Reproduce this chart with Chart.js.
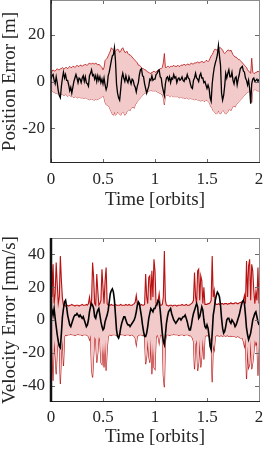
<!DOCTYPE html>
<html>
<head>
<meta charset="utf-8">
<script src="https://cdn.jsdelivr.net/npm/chart.js@4.4.1/dist/chart.umd.min.js"></script>
<style>
  html, body { margin: 0; padding: 0; background: #fff; }
  body { width: 264px; height: 450px; overflow: hidden; }
  canvas { display: block; }
</style>
</head>
<body>
<canvas id="posChart" width="264" height="225"></canvas>
<canvas id="velChart" width="264" height="225"></canvas>
<script>
// sample times in orbits (one sample every 0.01 orbit, 0 .. 2)
const times = Array.from({ length: 201 }, (_, i) => i / 100);

const xTicks = [0, 0.5, 1, 1.5, 2];
const xTickLabels = ['0', '0.5', '1', '1.5', '2'];

// --- position error [m] ---
const posTicks = [-20, 0, 20];
const posError = [
  1, 2.5, 3, 0.5, -1, 2, -0.5, -4, -6, -7,
  -2, 1.5, 4, 1.5, 3, 0.5, 0.5, -1.5, -4, -2.5,
  -5, -2.5, 0, 1.5, 3, 1.5, -0.5, 1.5, 1, -0.5,
  1.5, 2.5, 0, 2, -0.5, -1, -2, 2.5, 3.5, 5,
  2.5, 3, 1, 2.5, 0, 2.5, 0.5, 2, -0.5, 1,
  -1, 1.5, -1.5, -3.5, -2, 2.5, 4, 6.5, 9, 11,
  11.5, 14.5, 9, -1, -5, -7, -8, -3.5, 1.5, 3.5,
  1.5, 0, 2.5, 0.5, -0.5, 2, 0.5, -1, 1, 0.5,
  -1.5, -2.5, -4.5, -2, -0.5, 3, 5, 5.5, 2.5, 2,
  -1, -3, -5, -3.5, -2, 1, 0.5, 2.5, 0.5, 1,
  1, 3, 3.5, 4.5, 5, 2, 1.5, -2, -4, -6,
  -1, 1.5, 2, 0.5, 2, -0.5, 1.5, 1, 3, 1.5,
  2, -0.5, 1, 1.5, 0.5, 1, 2, 0.5, 0, 1.5,
  1, 3, 1.5, 1, -1, -2.5, -3, 0.5, 1.5, 3.5,
  1.5, 1, 0, 2.5, 3.5, 1.5, 1.5, -0.5, 0, -1.5,
  -3, -1.5, -3, -7, -8.5, -1, 3, 6, 8, 9.5,
  11.5, 15.5, 11, 7, -5, -8, -6, -2, 3.5, 1.5,
  3.5, 5, 2, 2, 4, 0.5, -1, 1.5, 2, -1.5,
  1, 3, 5.5, 6, 6.5, 4.5, 4, 1.5, 0.5, -1.5,
  0.5, -3, -9.5, -1, 1, 1.5, 0, 0.5, 1, 0,
  1
];
const posUpper = [
  3.5, 4.5, 5, 4.5, 4.5, 5, 5.5, 5, 5, 5.5,
  5.5, 6, 5.5, 5.5, 6, 6, 5.5, 6, 6.5, 6,
  6, 6.5, 6.5, 6, 6.5, 7, 6.5, 6.5, 7, 7,
  6.5, 7, 7, 7.5, 7, 7, 7.5, 8, 7.5, 7.5,
  8, 7.5, 7.5, 8, 7.5, 7, 7.5, 7, 6.5, 6,
  5, 6, 9, 9.5, 10, 11, 12, 13, 14.5, 14,
  13.5, 12.5, 13, 13.5, 14, 13.5, 12.5, 13, 14, 14.5,
  13.5, 12.5, 12.5, 13, 12, 11.5, 11.5, 11, 10.5, 10,
  9.5, 9, 8.5, 8, 7, 7, 6.5, 6, 5.5, 5.5,
  5, 5, 4.5, 4, 4, 3.5, 3.5, 4, 4, 4.5,
  4, 4, 4.5, 5, 5, 5.5, 5.5, 6, 8, 12,
  6, 6, 6.5, 6.5, 6, 6.5, 6.5, 6.5, 7, 6.5,
  6.5, 6.5, 7, 6.5, 6.5, 7, 7, 7, 7.5, 7,
  7, 7.5, 7.5, 7, 7.5, 8, 7.5, 7.5, 8, 8,
  8, 8.5, 8, 8, 8.5, 8.5, 8.5, 8, 8.5, 9,
  9, 8.5, 9, 10, 11, 11.5, 12.5, 13.5, 14, 13.5,
  13.5, 14, 14.5, 14.5, 14, 13.5, 12.5, 12, 12.5, 13,
  13.5, 13.5, 13, 13.5, 12.5, 11.5, 11, 10.5, 10.5, 10,
  9.5, 9.5, 9, 8.5, 8, 7.5, 7, 6.5, 6, 5,
  4.5, 4, 3.5, 10, 4, 3.5, 3.5, 4, 4, 4.5,
  4
];
const posLower = [
  -3.5, -4, -4.5, -4.5, -5, -5, -5, -5.5, -5, -5.5,
  -5.5, -5.5, -6, -6, -5.5, -6, -6.5, -6, -6, -6.5,
  -6.5, -6.5, -7, -6.5, -6.5, -7, -7, -6.5, -7, -7,
  -7, -7, -7.5, -7, -7, -7.5, -7.5, -8, -7.5, -7.5,
  -7.5, -8, -8, -7.5, -8, -7.5, -7.5, -7, -7, -6.5,
  -6, -7, -9, -10, -10, -10.5, -11, -12, -13, -14,
  -14.5, -13, -14.5, -14, -13, -13.5, -14, -14.5, -13.5, -13,
  -13.5, -14.5, -14, -13, -12.5, -12, -12.5, -11.5, -11, -11,
  -11.5, -10, -9.5, -8.5, -8, -7.5, -7, -6.5, -6, -5.5,
  -5, -5, -4.5, -4.5, -4, -4, -3.5, -4, -4, -4,
  -4, -4, -4.5, -4.5, -5, -5, -5.5, -5.5, -7, -10,
  -6, -6, -6, -6, -6.5, -6.5, -6, -6.5, -6.5, -6.5,
  -6.5, -6.5, -6.5, -7, -7, -6.5, -7, -7, -7, -7.5,
  -7, -7, -7.5, -7.5, -7, -7.5, -7.5, -7.5, -8, -7.5,
  -7.5, -8, -8, -8, -8.5, -8, -8, -8.5, -8.5, -8,
  -8, -8.5, -9, -10, -11, -11.5, -12.5, -13, -13.5, -14,
  -13.5, -12.5, -13.5, -14, -13, -12.5, -12.5, -13.5, -14, -13.5,
  -13, -12, -12, -12.5, -11.5, -10.5, -10.5, -11, -10, -9.5,
  -9, -8.5, -8, -7.5, -7, -6.5, -6, -5.5, -5, -4.5,
  -4.5, -4, -4, -9, -4, -3.5, -3.5, -3.5, -4, -4,
  -4
];

// --- velocity error [mm/s] ---
const velTicks = [-40, -20, 0, 20, 40];
const velError = [
  8, 6, 3, 7, 1, -4, -9, -13, -16, -17,
  -8, 2, 7, 11, 12, 8, 3, 0, -3, -4,
  -2, 0, 2, 3, 3, 4, 3, 2, 3, 2,
  1, 2, 0, -2, -4, -3, 0, 5, 8, 10,
  9, 7, 2, 1, 4, 6, 7, 3, -1, -4,
  -6, -5, -1, 1, 3, 6, 11, 16, 18, 19,
  17, 12, 3, -6, -10, -11, -9, -5, -2, 0,
  2, 2, 0, -2, -3, -3, -4, -3, -2, -1,
  0, 2, 5, 9, 11, 10, 6, 2, -3, -7,
  -10, -10, -8, -4, 1, 4, 7, 6, 5, 7,
  7, 9, 10, 12, 11, 6, -1, -8, -13, -15,
  -9, -2, 2, 5, 6, 7, 4, 2, 0, -1,
  -2, -1, 0, 1, 1, 0, 1, 2, 2, 3,
  1, -1, -4, -6, -6, -3, 1, 4, 6, 8,
  10, 8, 1, 2, 5, 8, 6, 0, -4, -5,
  -3, -5, -10, -16, -18, -8, 3, 7, 12, 15,
  17, 16, 14, 9, 1, -5, -8, -7, -4, 0,
  1, 1, -1, -2, 0, -1, -2, -4, -3, -1,
  1, 3, 6, 9, 11, 12, 10, 3, -5, -9,
  -12, -10, -8, -4, 0, 2, 4, 5, 2, -1,
  -3
];
const velUpper = [
  50, 14, 34, 10, 16, 35, 22, 10, 14, 39,
  24, 13, 9, 9, 8.5, 9, 9, 8.5, 9, 9,
  9.5, 9, 9, 8.5, 9, 9, 9, 8.5, 9, 9,
  9.5, 9, 9, 9, 9.5, 9, 10, 14, 9, 12,
  35, 26, 10, 9, 28, 18, 9, 10, 12, 31,
  20, 10, 24, 32, 10, 9, 9, 9, 9.5, 9,
  9, 9, 9.5, 9, 9, 9, 9, 9.5, 9, 9,
  9, 9, 9.5, 9, 9, 9.5, 9, 9, 9, 9.5,
  10, 11, 15, 10, 9.5, 9, 9, 9.5, 9, 9,
  9.5, 28, 14, 10, 26, 27, 12, 30, 14, 37,
  30, 10, 9, 12, 16, 9, 9, 9.5, 14, 42,
  12, 9, 9, 8.5, 9, 9, 9, 8.5, 9, 9,
  9, 8.5, 9, 9, 9, 9, 9.5, 9, 9, 9,
  9.5, 9, 9, 9, 9.5, 10, 10.5, 12, 29, 14,
  10, 30, 31, 12, 27, 24, 10, 20, 9.5, 9.5,
  9.5, 10, 10, 10.5, 12, 39, 14, 18, 10, 9.5,
  9.5, 10, 9.5, 9.5, 10, 10, 9.5, 10, 10, 10,
  9.5, 10, 10, 10.5, 10, 10, 10, 10.5, 10.5, 10,
  10, 10.5, 10.5, 11, 11, 12, 15, 10, 36, 14,
  33, 37, 12, 34, 30, 18, 10, 17, 12, 32,
  10
];
const velLower = [
  -50, -15, -37, -12, -20, -33, -18, -11, -16, -39,
  -20, -12, -28, -10, -9, -9.5, -9, -9, -9, -8.5,
  -9, -9, -9, -9.5, -9, -9, -8.5, -9, -9, -9,
  -9.5, -9, -9, -9, -9, -9.5, -10, -12, -9, -30,
  -35, -22, -10, -12, -26, -20, -10, -12, -26, -27,
  -14, -29, -12, -31, -18, -10, -9, -9, -9.5, -9,
  -9, -9, -9, -9.5, -9, -9, -9, -8.5, -9, -9,
  -9, -9.5, -9, -9, -9, -9, -9.5, -9, -9, -9.5,
  -10, -11, -15, -10, -9.5, -9, -9, -9, -9.5, -9,
  -10, -27, -22, -12, -22, -26, -11, -33, -14, -29,
  -30, -11, -9, -10, -14, -9, -9, -10, -34, -41,
  -13, -9, -9, -9, -9.5, -9, -9, -9, -8.5, -9,
  -9, -9, -9, -9.5, -9, -9, -9, -9, -9.5, -9,
  -9, -9, -9, -9.5, -9.5, -10, -11, -13, -30, -15,
  -12, -31, -26, -12, -29, -22, -11, -24, -10, -9.5,
  -9.5, -9.5, -10, -10.5, -14, -38, -15, -18, -10, -9.5,
  -9.5, -9.5, -10, -9.5, -9.5, -10, -9.5, -9.5, -10, -9.5,
  -9.5, -10, -10, -9.5, -10, -10, -10, -10, -10.5, -10,
  -10, -10.5, -11, -11, -11, -13, -16, -11, -36, -16,
  -29, -27, -12, -30, -26, -20, -12, -15, -13, -34,
  -12
];

const FONT = "'Liberation Serif', 'Times New Roman', serif";
const AXIS_COLOR = '#262626';
const BAND_EDGE = 'rgb(184, 18, 18)';
const BAND_FILL = 'rgb(242, 202, 202)';

const pts = vals => times.map((t, i) => ({ x: t, y: vals[i] }));

// MATLAB-style box: inward ticks on all sides, dark left/bottom axes
const boxPlugin = {
  id: 'matlabBox',
  afterDatasetsDraw(chart, args, opts) {
    const { ctx, chartArea: a, scales: { x, y } } = chart;
    ctx.save();
    ctx.lineWidth = 1;
    ctx.strokeStyle = '#6a6a6a';
    ctx.beginPath();
    x.ticks.forEach(t => {
      const px = Math.round(x.getPixelForValue(t.value)) + 0.5;
      ctx.moveTo(px, a.bottom); ctx.lineTo(px, a.bottom - 4);
      ctx.moveTo(px, a.top); ctx.lineTo(px, a.top + 4);
    });
    y.ticks.forEach(t => {
      const py = Math.round(y.getPixelForValue(t.value)) + 0.5;
      ctx.moveTo(a.left, py); ctx.lineTo(a.left + 4, py);
      ctx.moveTo(a.right, py); ctx.lineTo(a.right - 4, py);
    });
    ctx.stroke();

    // top and right edges (light)
    ctx.strokeStyle = '#8c8c8c';
    ctx.beginPath();
    ctx.moveTo(a.left, a.top + 0.5); ctx.lineTo(a.right, a.top + 0.5);
    ctx.moveTo(a.right + 0.5, a.top); ctx.lineTo(a.right + 0.5, a.bottom);
    ctx.stroke();

    // left and bottom axes (dark)
    ctx.strokeStyle = AXIS_COLOR;
    ctx.beginPath();
    ctx.moveTo(a.left + 0.5, Math.round(a.bottom) - 0.5); ctx.lineTo(a.right + 1, Math.round(a.bottom) - 0.5);
    ctx.stroke();
    ctx.lineWidth = opts.leftWidth || 1.5;
    ctx.strokeStyle = '#111';
    ctx.beginPath();
    ctx.moveTo(a.left, a.top); ctx.lineTo(a.left, a.bottom);
    ctx.stroke();
    ctx.restore();
  }
};

function makeChart(id, cfg) {
  return new Chart(document.getElementById(id), {
    type: 'line',
    data: {
      datasets: [
        { data: pts(cfg.error), borderColor: '#000', borderWidth: cfg.lineWidth, pointRadius: 0, fill: false },
        { data: pts(cfg.upper), borderColor: BAND_EDGE, borderWidth: cfg.edgeWidth, pointRadius: 0, fill: '+1', backgroundColor: BAND_FILL },
        { data: pts(cfg.lower), borderColor: BAND_EDGE, borderWidth: cfg.edgeWidth, pointRadius: 0, fill: false }
      ]
    },
    options: {
      responsive: false,
      animation: false,
      events: [],
      layout: { padding: { left: 0, right: 5, top: cfg.top, bottom: 0 } },
      plugins: { legend: { display: false }, tooltip: { enabled: false }, matlabBox: { leftWidth: cfg.leftWidth } },
      scales: {
        x: {
          type: 'linear', min: 0, max: 2,
          grid: { display: false, drawTicks: false },
          border: { display: false },
          afterBuildTicks: s => { s.ticks = xTicks.map(v => ({ value: v })); },
          afterFit: s => { s.height = cfg.xHeight; s.paddingLeft = 0; s.paddingRight = 0; },
          ticks: {
            autoSkip: false, maxRotation: 0, padding: cfg.xTickPad, color: AXIS_COLOR,
            font: { family: FONT, size: 17, lineHeight: 1 },
            callback: (v, i) => xTickLabels[i]
          },
          title: {
            display: true, text: 'Time [orbits]', color: AXIS_COLOR,
            font: { family: FONT, size: 19, lineHeight: 1 },
            padding: { top: 0, bottom: cfg.xTitlePad }
          }
        },
        y: {
          type: 'linear', min: cfg.min, max: cfg.max,
          grid: { display: false, drawTicks: false },
          border: { display: false },
          afterBuildTicks: s => { s.ticks = cfg.ticks.map(v => ({ value: v })); },
          afterFit: s => { s.width = 51; s.paddingTop = 0; s.paddingBottom = 0; },
          ticks: {
            autoSkip: false, padding: 6, color: AXIS_COLOR,
            font: { family: FONT, size: 17, lineHeight: 1 },
            callback: v => String(v)
          },
          title: {
            display: true, text: cfg.title, color: AXIS_COLOR,
            font: { family: FONT, size: 19, lineHeight: 1 },
            padding: { top: 0.5, bottom: 0 }
          }
        }
      }
    },
    plugins: [boxPlugin]
  });
}

makeChart('posChart', {
  error: posError, upper: posUpper, lower: posLower,
  min: -35, max: 35, ticks: posTicks, title: 'Position Error [m]',
  top: 0, xHeight: 62, xTickPad: 8.5, xTitlePad: 15.5, lineWidth: 1.3, edgeWidth: 0.8, leftWidth: 1.5
});
makeChart('velChart', {
  error: velError, upper: velUpper, lower: velLower,
  min: -50, max: 50, ticks: velTicks, title: 'Velocity Error [mm/s]',
  top: 13, xHeight: 48, xTickPad: 7.5, xTitlePad: 3, lineWidth: 1.6, edgeWidth: 1.1, leftWidth: 2.5
});
</script>
</body>
</html>
